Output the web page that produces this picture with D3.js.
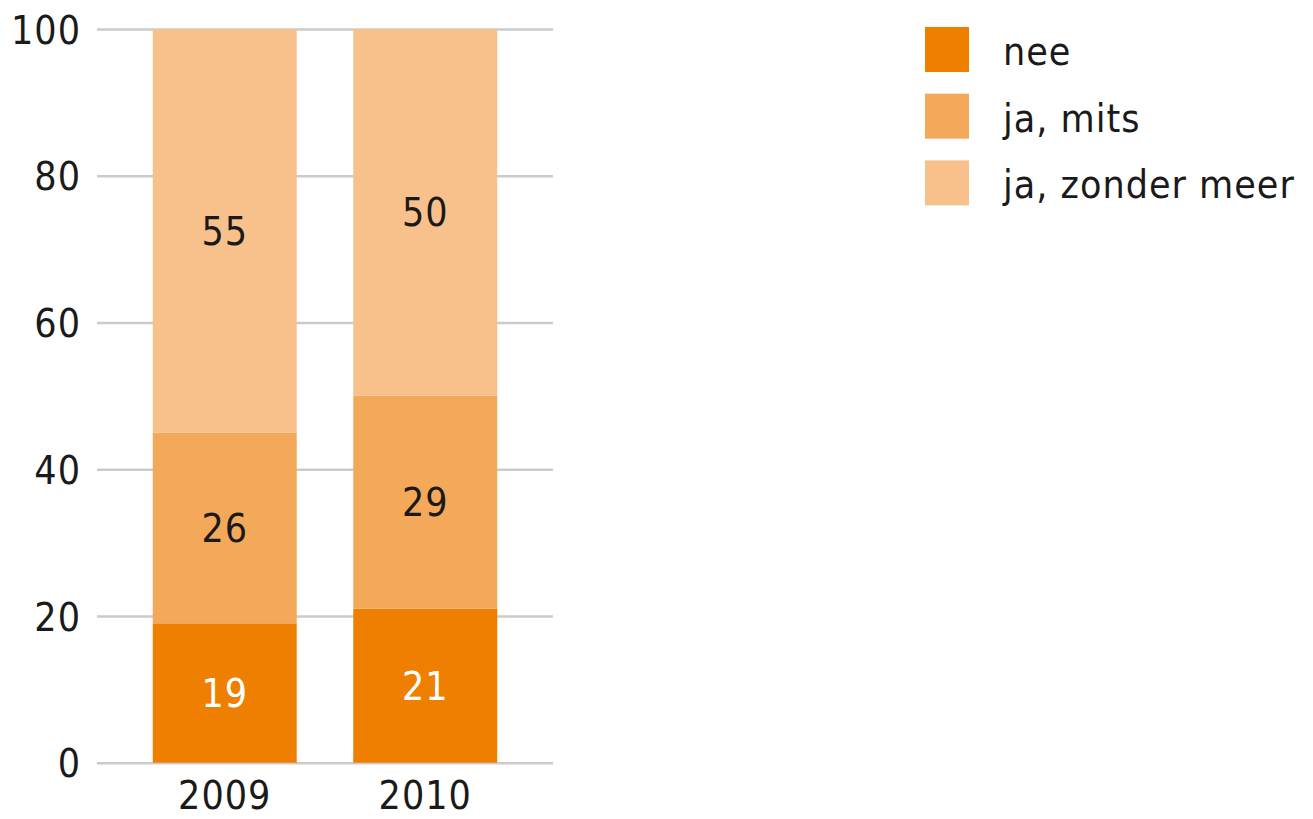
<!DOCTYPE html>
<html>
<head>
<meta charset="utf-8">
<script src="https://cdn.jsdelivr.net/npm/d3@7"></script>
<style>
  body { margin: 0; background: #fff; }
  text { font-family: "DejaVu Sans Condensed", "DejaVu Sans", sans-serif; fill: #1a1a1a; }
</style>
</head>
<body>
<svg id="chart" width="1313" height="819"></svg>
<script>
// data
const years = ["2009", "2010"];
const series = ["nee", "ja, mits", "ja, zonder meer"];
const nee = [19, 21];
const jaMits = [26, 29];
const jaZonderMeer = [55, 50];
const yTicks = [0, 20, 40, 60, 80, 100];
const colors = ["#ef7f00", "#f4a85a", "#f8c08a"];

const svg = d3.select("#chart");
const fontSize = "39px";

// build rows for the stack
const rows = years.map((y, i) => ({
    year: y,
    "nee": nee[i],
    "ja, mits": jaMits[i],
    "ja, zonder meer": jaZonderMeer[i]
}));
const stacked = d3.stack().keys(series)(rows);

const x = d3.scaleBand()
    .domain(years)
    .range([97, 553])
    .paddingInner(0.282)
    .paddingOuter(0.278);
const y = d3.scaleLinear().domain([0, 100]).range([762.7, 29]);

// gridlines + tick labels
const yAxis = svg.append("g").attr("transform", "translate(97,0)")
    .call(d3.axisRight(y).tickValues(yTicks).tickSize(456).tickFormat(d => d));
yAxis.select(".domain").remove();
yAxis.selectAll(".tick line").attr("stroke", "#cbcbcb").attr("stroke-width", 2.6);
yAxis.selectAll(".tick text")
    .attr("x", -16).attr("dy", "0.36em")
    .attr("text-anchor", "end")
    .style("font-size", fontSize)
    .style("font-family", "'DejaVu Sans Condensed', 'DejaVu Sans', sans-serif")
    .attr("fill", "#1a1a1a")
    .attr("letter-spacing", "1");

// bars
const layer = svg.append("g").selectAll("g")
    .data(stacked).join("g")
    .attr("fill", (d, i) => colors[i]);

layer.selectAll("rect")
    .data(d => d).join("rect")
    .attr("x", d => x(d.data.year))
    .attr("y", d => y(d[1]))
    .attr("width", x.bandwidth())
    .attr("height", d => y(d[0]) - y(d[1]));

// value labels
layer.each(function(s, i) {
    d3.select(this).selectAll("text")
        .data(s).join("text")
        .attr("x", d => x(d.data.year) + x.bandwidth() / 2)
        .attr("y", d => y((d[0] + d[1]) / 2))
        .attr("dy", "0.36em")
        .attr("text-anchor", "middle")
        .attr("letter-spacing", "1")
        .style("font-size", fontSize)
        .style("fill", i === 0 ? "#fff" : "#1a1a1a")
        .text(d => d[1] - d[0]);
});

// x labels
const xAxis = svg.append("g").attr("transform", "translate(0,762.7)")
    .call(d3.axisBottom(x).tickSize(0).tickPadding(0));
xAxis.select(".domain").remove();
xAxis.selectAll(".tick text")
    .attr("y", 46).attr("dy", 0)
    .style("font-size", fontSize)
    .style("font-family", "'DejaVu Sans Condensed', 'DejaVu Sans', sans-serif")
    .attr("fill", "#1a1a1a")
    .attr("letter-spacing", "1");

// legend
const legend = svg.append("g").attr("transform", "translate(925,27)");
const item = legend.selectAll("g")
    .data(series).join("g")
    .attr("transform", (d, i) => `translate(0,${i * 66.7})`);
item.append("rect")
    .attr("width", 44).attr("height", 45)
    .attr("fill", (d, i) => colors[i]);
item.append("text")
    .attr("x", 78).attr("y", 38)
    .attr("letter-spacing", "1")
    .style("font-size", fontSize)
    .text(d => d);
</script>
</body>
</html>
